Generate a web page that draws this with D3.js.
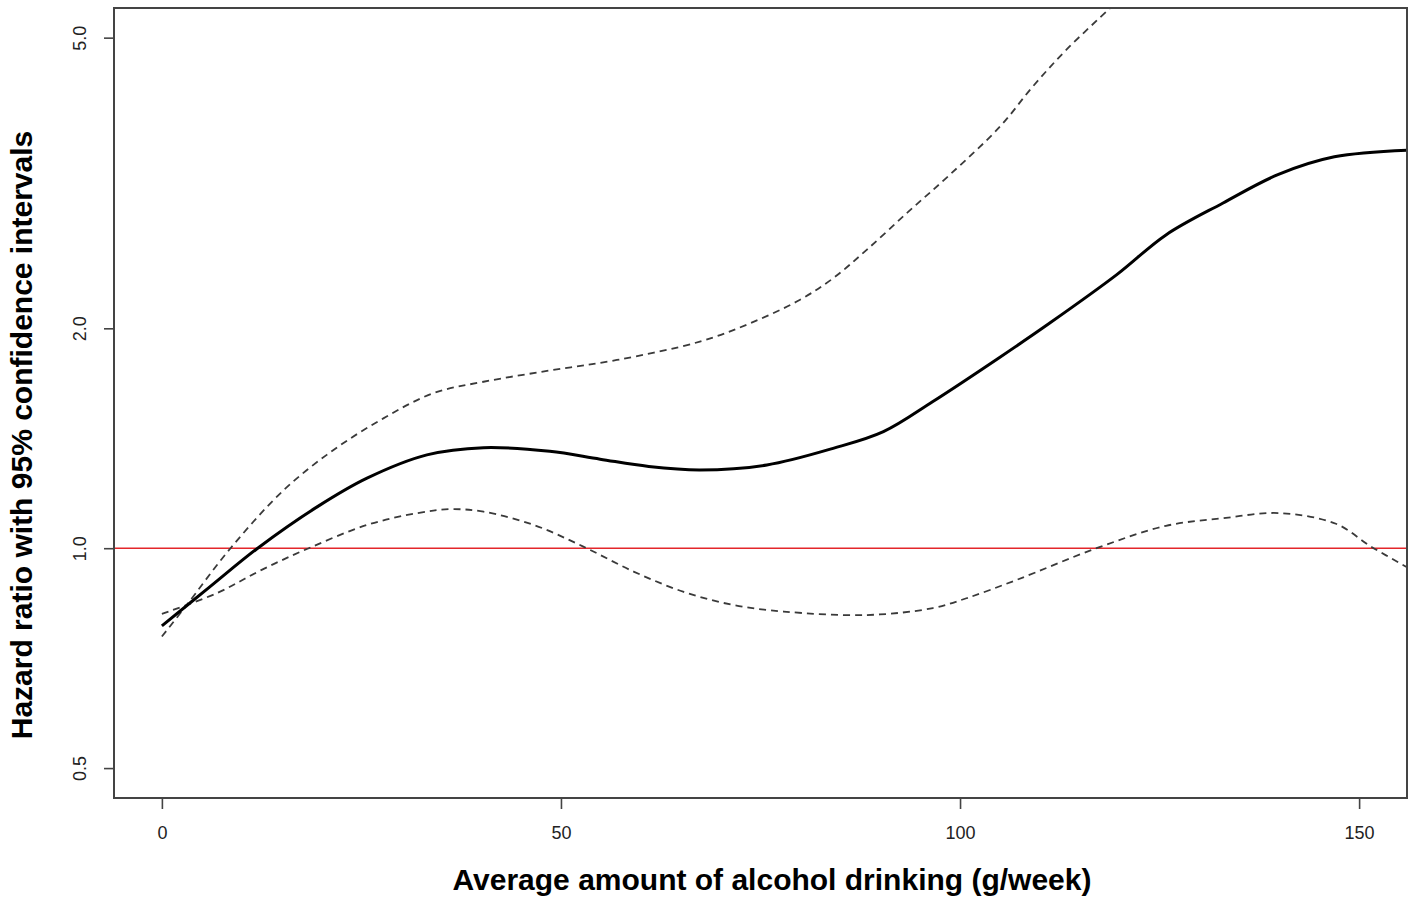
<!DOCTYPE html>
<html>
<head>
<meta charset="utf-8">
<script src="https://cdn.jsdelivr.net/npm/d3@7"></script>
<style>
  body { margin: 0; background: #fff; }
  text { font-family: "Liberation Sans", Arial, Helvetica, sans-serif; }
</style>
</head>
<body>
<svg id="chart" width="1418" height="905"></svg>
<script>
// fitted hazard ratio (solid)
let fitX = [0, 6, 12, 19.5, 25.7, 33.2, 40.3, 48.6, 54.9, 61, 67.4, 75.8, 84.1, 90.4, 96.6, 105, 111.2, 119.6, 125.8, 132.9, 139.9, 146.9, 156];
let fitHR = [0.783, 0.885, 1.0, 1.14, 1.247, 1.342, 1.373, 1.357, 1.324, 1.294, 1.28, 1.3, 1.37, 1.444, 1.588, 1.826, 2.032, 2.367, 2.685, 2.967, 3.249, 3.434, 3.507];

// confidence band (dashed)
let upX = [0, 3, 8.6, 15.3, 21.5, 27.8, 34, 40.3, 48.6, 57, 67.4, 73.7, 79.9, 84.1, 88.3, 93.5, 98.7, 105, 109.1, 113.3, 118.9, 122];
let upHR = [0.757, 0.833, 1.0, 1.202, 1.363, 1.507, 1.63, 1.69, 1.751, 1.81, 1.918, 2.032, 2.187, 2.342, 2.561, 2.887, 3.244, 3.777, 4.284, 4.81, 5.503, 5.93];

let loX = [0, 6.9, 12.5, 18.4, 25.7, 32, 36.1, 40.3, 46.6, 52.8, 59.1, 65.3, 71.6, 77.9, 88.3, 96.6, 100.8, 107.1, 117.1, 125.8, 132.9, 140, 147.1, 151.5, 156];
let loHR = [0.813, 0.868, 0.934, 1.0, 1.076, 1.117, 1.131, 1.122, 1.076, 1.005, 0.929, 0.872, 0.836, 0.819, 0.81, 0.828, 0.854, 0.905, 1.0, 1.073, 1.099, 1.117, 1.08, 1.005, 0.942];

let xTicks = [0, 50, 100, 150];
let yTicks = [0.5, 1, 2, 5];
let yTickLabels = ["0.5", "1.0", "2.0", "5.0"];

let svg = d3.select("#chart");
let plotL = 114, plotR = 1407, plotT = 8, plotB = 798;

let x = d3.scaleLinear().domain([-6, 156]).range([plotL, plotR]);
let y = d3.scaleLog().domain([0.455, 5.49]).range([plotB, plotT]);

svg.append("clipPath")
  .attr("id", "plot-clip")
  .append("rect")
  .attr("x", plotL)
  .attr("y", plotT)
  .attr("width", plotR - plotL)
  .attr("height", plotB - plotT);

let plot = svg.append("g").attr("clip-path", "url(#plot-clip)");

// reference line at HR = 1
plot.append("line")
  .attr("x1", plotL)
  .attr("x2", plotR)
  .attr("y1", y(1))
  .attr("y2", y(1))
  .attr("stroke", "#e3262b")
  .attr("stroke-width", 1.6);

function lineFor(xs, vs) {
  return d3.line()
    .x(function (d, i) { return x(xs[i]); })
    .y(function (d, i) { return y(vs[i]); })
    .curve(d3.curveCatmullRom.alpha(0.5))(vs);
}

plot.append("path")
  .attr("d", lineFor(upX, upHR))
  .attr("fill", "none")
  .attr("stroke", "#3a3a3a")
  .attr("stroke-width", 1.8)
  .attr("stroke-dasharray", "7,5");

plot.append("path")
  .attr("d", lineFor(loX, loHR))
  .attr("fill", "none")
  .attr("stroke", "#3a3a3a")
  .attr("stroke-width", 1.8)
  .attr("stroke-dasharray", "7,5");

plot.append("path")
  .attr("d", lineFor(fitX, fitHR))
  .attr("fill", "none")
  .attr("stroke", "#000")
  .attr("stroke-width", 3);

// axes
let xAxis = svg.append("g")
  .attr("transform", "translate(0," + plotB + ")")
  .call(d3.axisBottom(x).tickValues(xTicks).tickSize(11).tickPadding(17).tickFormat(d3.format("d")));
xAxis.select(".domain").remove();
xAxis.selectAll("line").attr("stroke", "#444").attr("stroke-width", 1.6);
xAxis.selectAll("text").attr("font-size", 18).attr("fill", "#222")
  .style("font-family", "'Liberation Sans', Arial, sans-serif");

let yAxis = svg.append("g")
  .attr("transform", "translate(" + plotL + ",0)")
  .call(d3.axisLeft(y).tickValues(yTicks).tickSize(10).tickFormat(function (d, i) { return yTickLabels[i]; }));
yAxis.select(".domain").remove();
yAxis.selectAll("line").attr("stroke", "#444").attr("stroke-width", 1.6);
yAxis.selectAll("text")
  .attr("transform", "rotate(-90)")
  .attr("x", 0)
  .attr("y", -28)
  .attr("dy", 0)
  .attr("text-anchor", "middle")
  .attr("font-size", 18)
  .attr("fill", "#222")
  .style("font-family", "'Liberation Sans', Arial, sans-serif");

// box
svg.append("rect")
  .attr("x", plotL)
  .attr("y", plotT)
  .attr("width", plotR - plotL)
  .attr("height", plotB - plotT)
  .attr("fill", "none")
  .attr("stroke", "#444")
  .attr("stroke-width", 2);

// titles
svg.append("text")
  .attr("x", 772)
  .attr("y", 890)
  .attr("text-anchor", "middle")
  .attr("font-size", 30)
  .attr("font-weight", "bold")
  .text("Average amount of alcohol drinking (g/week)");

svg.append("text")
  .attr("transform", "translate(32,435) rotate(-90)")
  .attr("text-anchor", "middle")
  .attr("font-size", 30)
  .attr("font-weight", "bold")
  .text("Hazard ratio with 95% confidence intervals");
</script>
</body>
</html>
